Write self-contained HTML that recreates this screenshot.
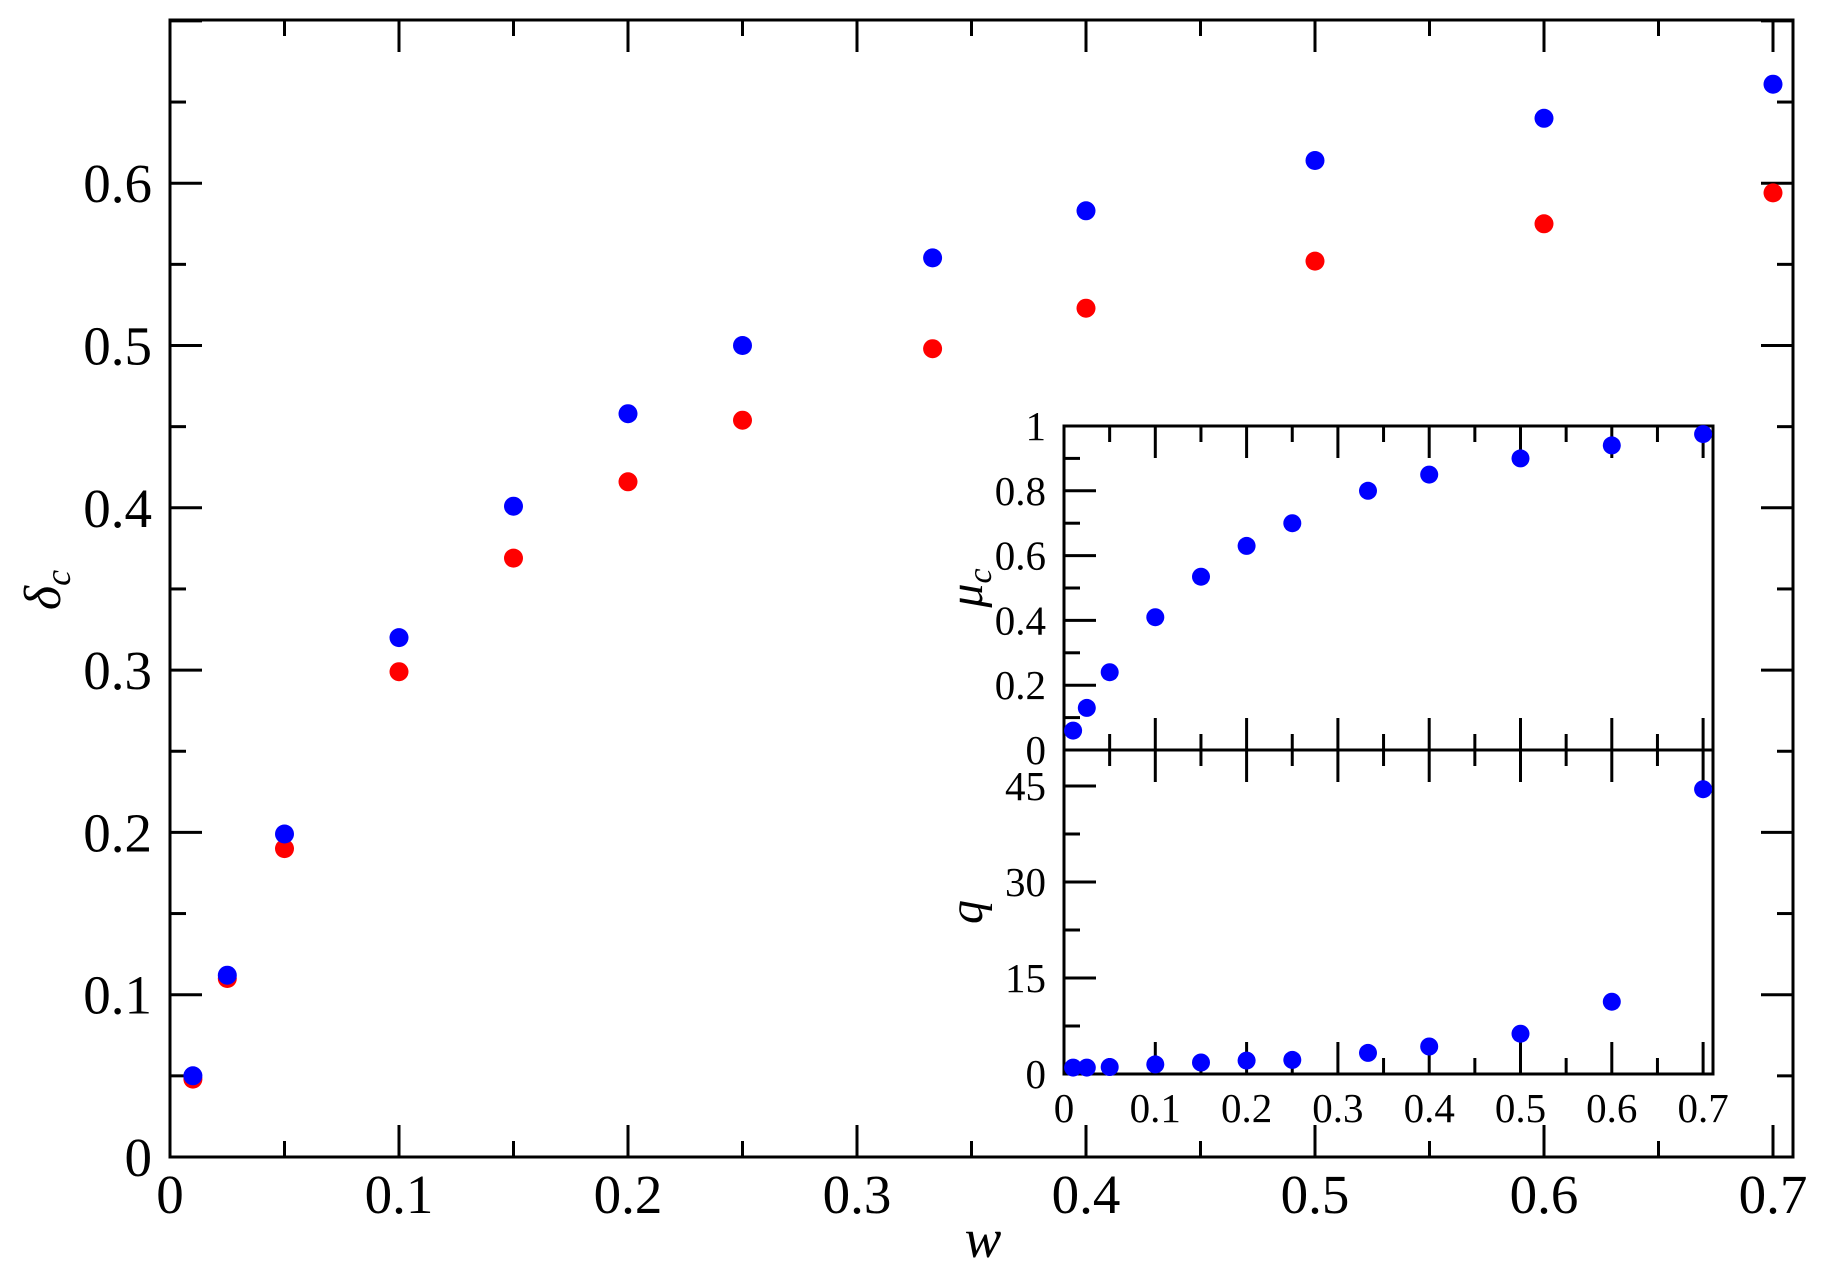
<!DOCTYPE html>
<html><head><meta charset="utf-8"><style>
html,body{margin:0;padding:0;background:#fff;}
svg{display:block;}
text{font-family:"Liberation Serif",serif;fill:#000;}
</style></head><body>
<svg id="s" xmlns="http://www.w3.org/2000/svg" width="1847" height="1284" viewBox="0 0 1847 1284"></svg>
<script>
var s=document.getElementById('s'),h='';
function L(x1,y1,x2,y2,w){h+='<line x1="'+x1+'" y1="'+y1+'" x2="'+x2+'" y2="'+y2+'" stroke="#000" stroke-width="'+(w||3)+'"/>';}
function C(x,y,r,c){h+='<circle cx="'+x.toFixed(1)+'" cy="'+y.toFixed(1)+'" r="'+r+'" fill="'+c+'"/>';}
function T(x,y,t,sz,a,extra){h+='<text x="'+x+'" y="'+y+'" font-size="'+sz+'" text-anchor="'+(a||'middle')+'" '+(extra||'')+'>'+t+'</text>';}
// main
var X=function(w){return 170+2290*w;},Y=function(v){return 1157-1623*v;};
var R=1793,TOP=20;
h+='<rect x="170" y="20" width="1623" height="1137" fill="none" stroke="#000" stroke-width="3"/>';
for(var i=0;i<=14;i++){var w=i*0.05,x=X(w),len=(i%2==0)?32:16;L(x,1157,x,1157-len);L(x,TOP,x,TOP+len);
 if(i%2==0)T(x,1213,(i==0?'0':(w.toFixed(1))),55);}
for(var i=0;i<=14;i++){var v=i*0.05,y=Y(v),len=(i%2==0)?32:16;L(170,y,170+len,y);L(R,y,R-len,y);
 if(i%2==0&&i<14)T(152,y+19,(i==0?'0':v.toFixed(1)),55,'end');}
var ws=[0.01,0.025,0.05,0.1,0.15,0.2,0.25,0.333,0.4,0.5,0.6,0.7];
var red=[0.048,0.11,0.19,0.299,0.369,0.416,0.454,0.498,0.523,0.552,0.575,0.594];
var blue=[0.05,0.112,0.199,0.32,0.401,0.458,0.5,0.554,0.583,0.614,0.64,0.661];
for(var i=0;i<12;i++)C(X(ws[i]),Y(red[i]),9.5,'#ff0000');
for(var i=0;i<12;i++)C(X(ws[i]),Y(blue[i]),9.5,'#0000ff');
T(983,1257,'w',55,'middle','font-style="italic"');
h+='<text transform="translate(60,590) rotate(-90)" font-size="52" text-anchor="middle" font-style="italic">δ<tspan font-size="36" dy="10">c</tspan></text>';
// inset
var IL=1064,IR=1713,IT=426,IM=750,IB=1074;
var XI=function(w){return IL+913*w;},YM=function(m){return IM-324*m;},YQ=function(q){return IB-6.4*q;};
h+='<rect x="'+IL+'" y="'+IT+'" width="'+(IR-IL)+'" height="'+(IB-IT)+'" fill="#fff" stroke="#000" stroke-width="3"/>';
L(IL,IM,IR,IM);
for(var i=0;i<=14;i++){var w=i*0.05,x=XI(w),len=(i%2==0)?32:16;
 L(x,IT,x,IT+len);L(x,IM-len,x,IM+len);L(x,IB,x,IB-len);
 if(i%2==0)T(x,1122,(i==0?'0':w.toFixed(1)),41);}
for(var i=0;i<=10;i++){var m=i*0.1,y=YM(m),len=(i%2==0)?32:16;L(IL,y,IL+len,y);
 if(i%2==0)T(1046,y+14,(i==0?'0':(i==10?'1':m.toFixed(1))),41,'end');}
for(var i=0;i<=6;i++){var q=i*7.5,y=YQ(q),len=(i%2==0)?32:16;L(IL,y,IL+len,y);
 if(i%2==0&&i>0)T(1046,y+14,String(q),41,'end');}
T(1046,IB+14,'0',41,'end');
var mu=[0.06,0.13,0.24,0.41,0.535,0.63,0.70,0.80,0.85,0.90,0.94,0.975];
var qq=[1,1,1.1,1.5,1.8,2.1,2.2,3.3,4.3,6.3,11.3,44.5];
for(var i=0;i<12;i++){C(XI(ws[i]),YM(mu[i]),9,'#0000ff');C(XI(ws[i]),YQ(qq[i]),9,'#0000ff');}
h+='<text transform="translate(982,588) rotate(-90)" font-size="48" text-anchor="middle" font-style="italic">μ<tspan font-size="34" dy="9">c</tspan></text>';
h+='<text transform="translate(982,912) rotate(-90)" font-size="48" text-anchor="middle" font-style="italic">q</text>';
s.innerHTML=h;
</script>
</body></html>
